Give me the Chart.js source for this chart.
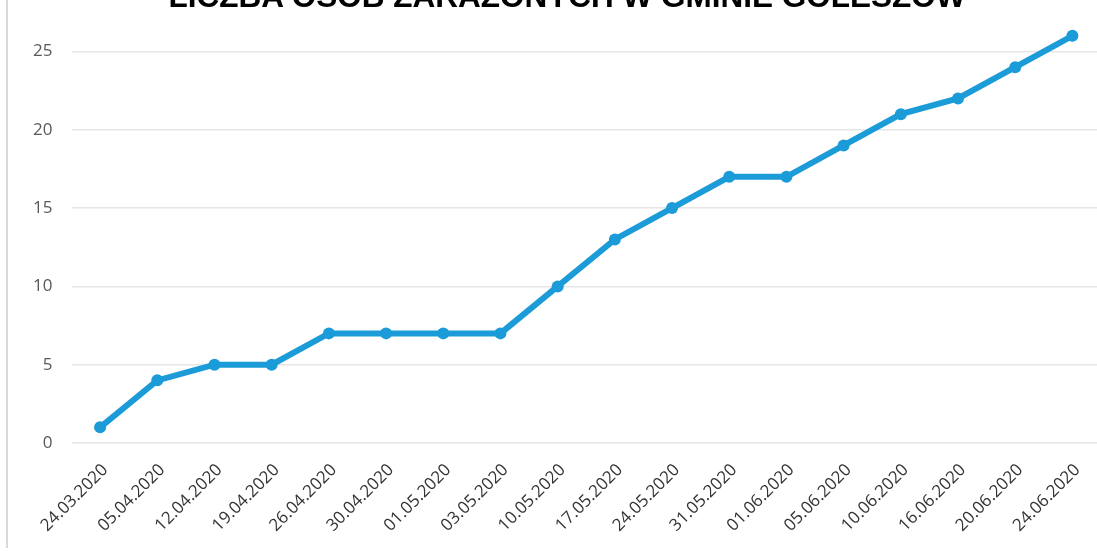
<!DOCTYPE html>
<html>
<head>
<meta charset="utf-8">
<script src="https://cdn.jsdelivr.net/npm/chart.js@4"></script>
<style>
  html, body { margin: 0; padding: 0; background: #fff; overflow: hidden; }
  #wrap { position: absolute; left: 0; top: -56px; width: 1115px; height: 607px; }
  #frame { position: absolute; left: 6px; top: 0; width: 2px; height: 548px; background: #d9d9d9; }
  #title {
    position: absolute; left: 0; width: 1134px; top: -19px;
    text-align: center; font: bold 31.5px "Liberation Sans", Arial, sans-serif;
    line-height: 31.5px; color: #000; white-space: nowrap;
  }
</style>
</head>
<body>
<div id="wrap"><canvas id="chart" width="1115" height="607"></canvas></div>
<div id="frame"></div>
<div id="title">LICZBA OSÓB ZARAŻONYCH W GMINIE GOLESZÓW</div>
<script>
// Dates of the reports
const dates = [
  '24.03.2020', '05.04.2020', '12.04.2020', '19.04.2020', '26.04.2020', '30.04.2020',
  '01.05.2020', '03.05.2020', '10.05.2020', '17.05.2020', '24.05.2020', '31.05.2020',
  '01.06.2020', '05.06.2020', '10.06.2020', '16.06.2020', '20.06.2020', '24.06.2020'
];
// Number of infected people
const infected = [1, 4, 5, 5, 7, 7, 7, 7, 10, 13, 15, 17, 17, 19, 21, 22, 24, 26];
const yTicks = [0, 5, 10, 15, 20, 25, 30];

const blue = '#1b9bd8';

new Chart(document.getElementById('chart').getContext('2d'), {
  type: 'line',
  data: {
    labels: dates,
    datasets: [{
      label: 'Liczba osób zarażonych',
      data: infected,
      borderColor: blue,
      backgroundColor: blue,
      borderWidth: 6,
      pointRadius: 6,
      pointHoverRadius: 6,
      pointBackgroundColor: blue,
      pointBorderColor: blue,
      pointBorderWidth: 0,
      tension: 0,
      fill: false
    }]
  },
  options: {
    responsive: false,
    animation: false,
    devicePixelRatio: 1,
    layout: { padding: { top: 11, right: 14, left: 0, bottom: 0 } },
    plugins: { legend: { display: false }, tooltip: { enabled: false } },
    scales: {
      x: {
        offset: true,
        grid: { display: false },
        border: { display: false },
        ticks: {
          minRotation: 45, maxRotation: 45,
          color: '#333333',
          font: { family: '"Open Sans", sans-serif', size: 17 },
          padding: 9,
          labelOffset: 5
        },
        afterFit: function(scale) { scale.height = 108; }
      },
      y: {
        min: yTicks[0],
        max: yTicks[yTicks.length - 1],
        afterBuildTicks: function(scale) { scale.ticks = yTicks.map(v => ({ value: v })); },
        grid: { color: '#e6e6e6', lineWidth: 1.5, drawTicks: false },
        border: { display: false },
        ticks: {
          color: '#595959',
          font: { family: '"Open Sans", sans-serif', size: 17 },
          padding: 19
        },
        afterFit: function(scale) { scale.width = 71.5; }
      }
    }
  }
});
</script>
</body>
</html>
